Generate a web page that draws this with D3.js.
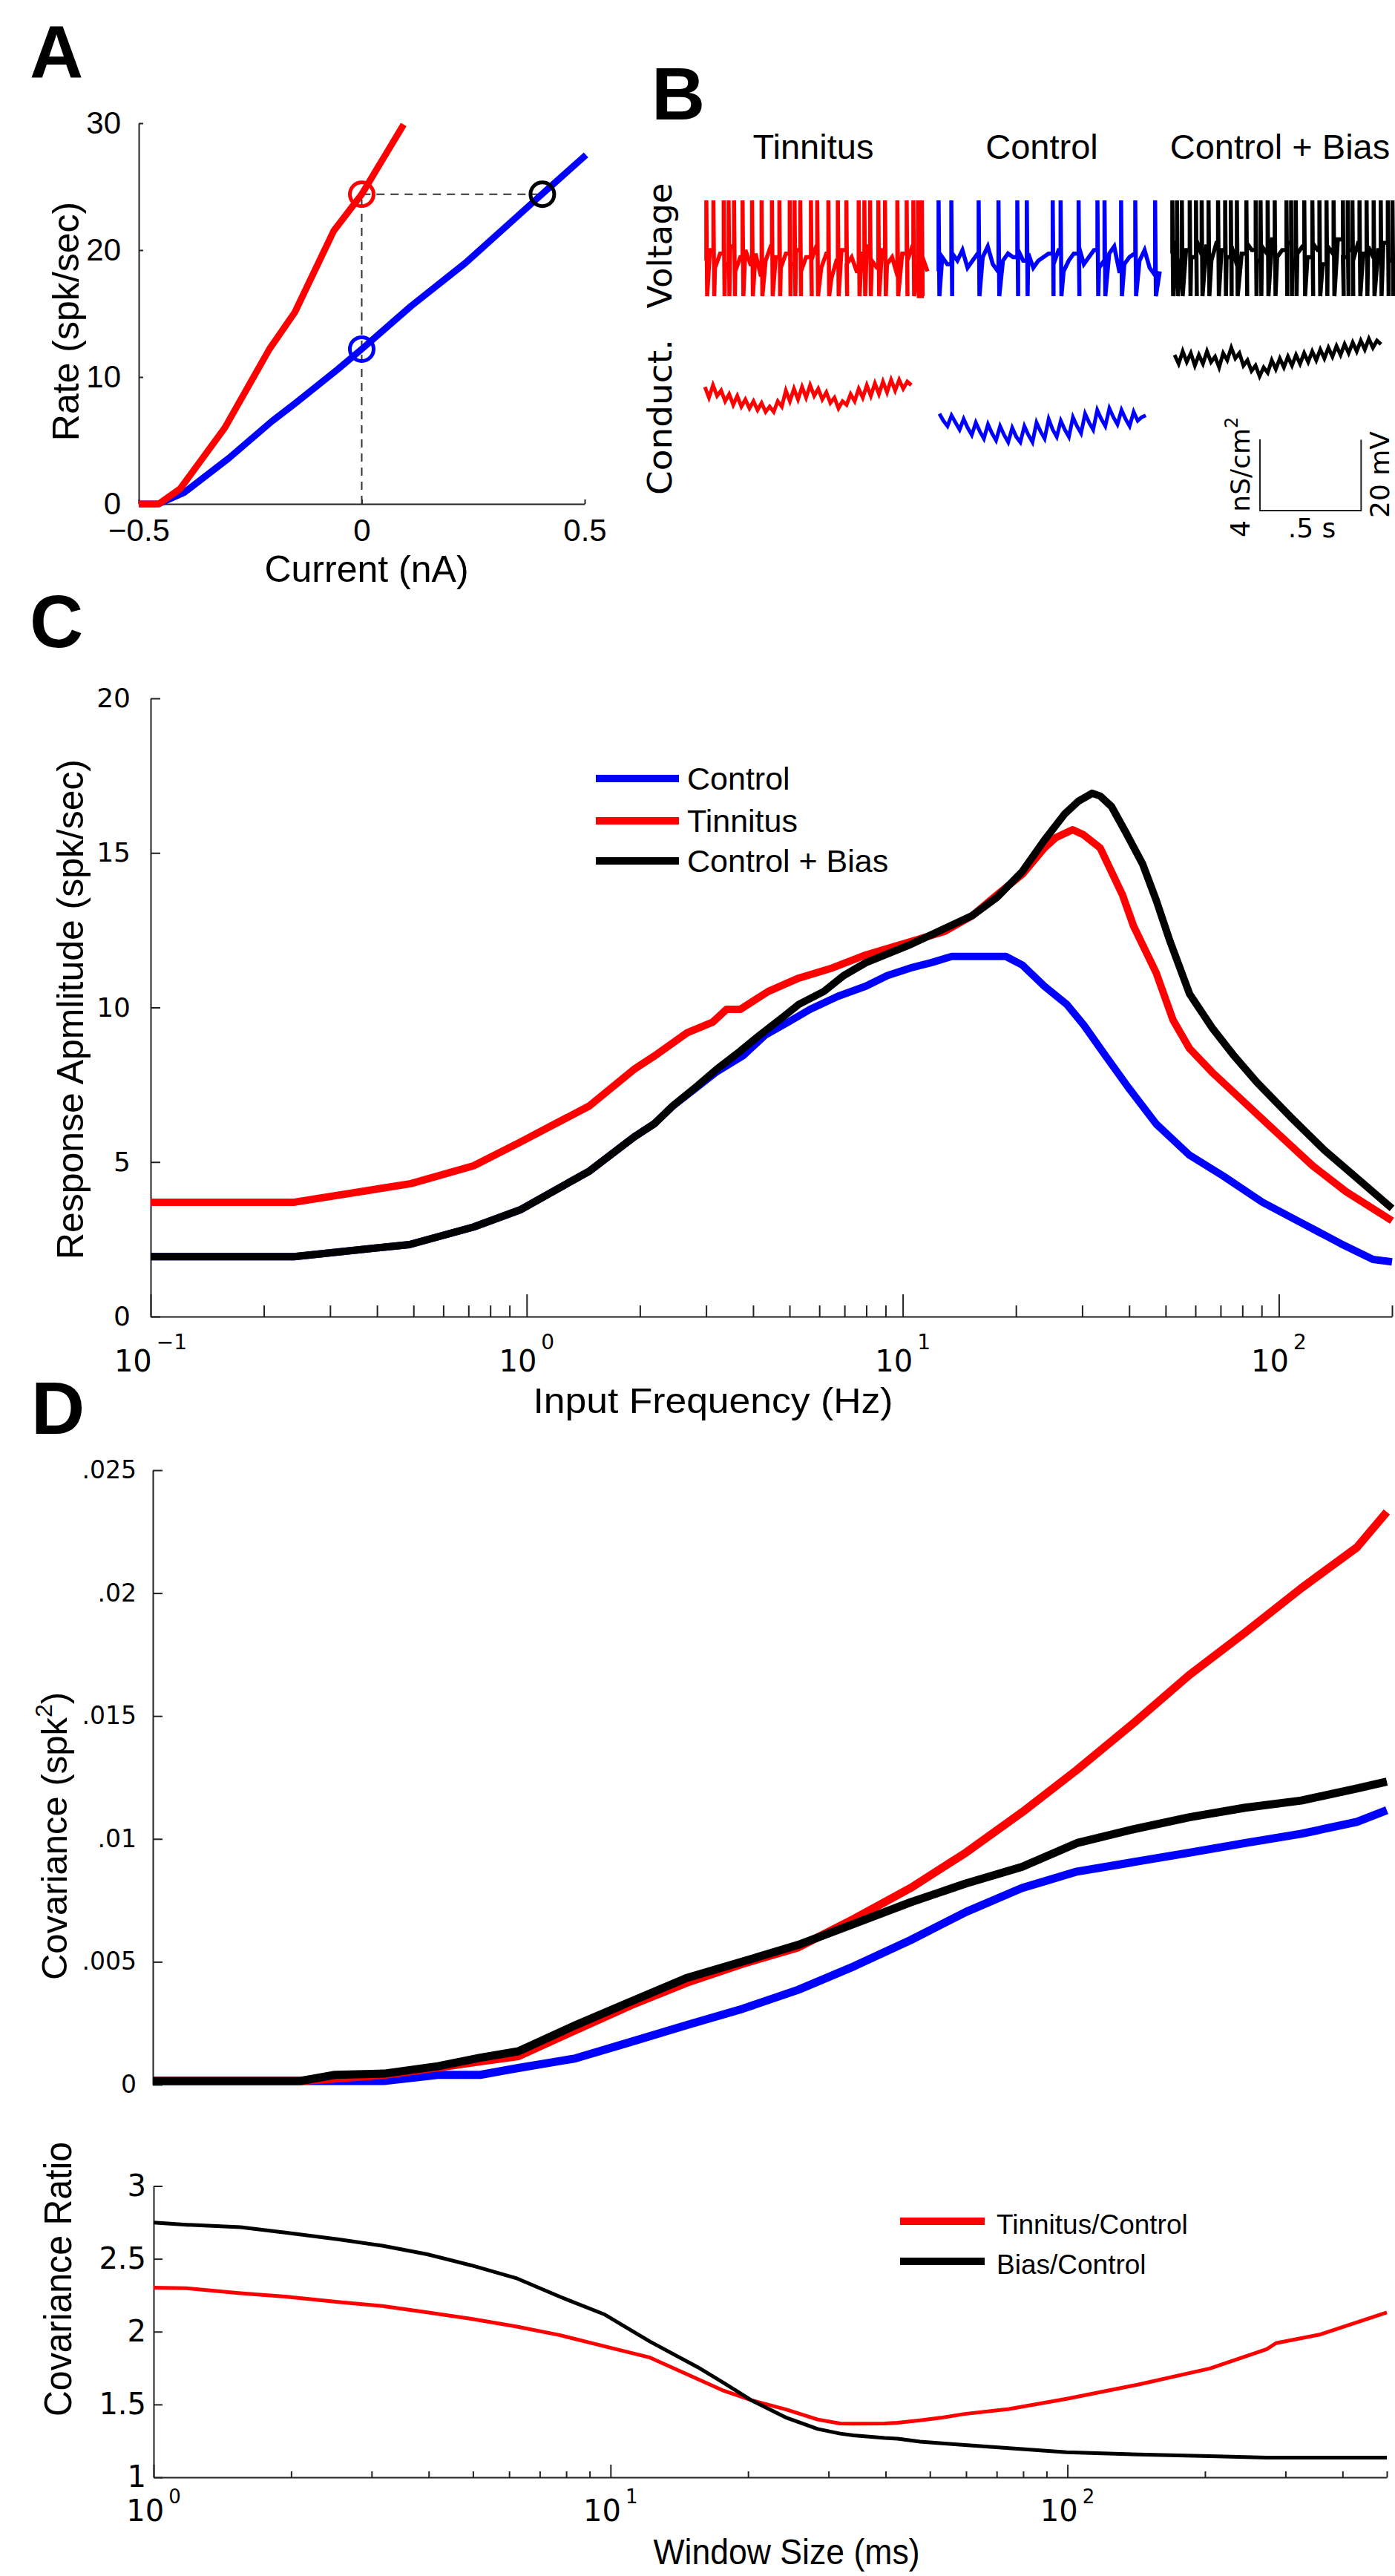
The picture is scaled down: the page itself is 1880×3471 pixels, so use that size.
<!DOCTYPE html>
<html>
<head>
<meta charset="utf-8">
<script src="https://cdn.jsdelivr.net/npm/d3@7"></script>
<style>
  html, body { margin: 0; padding: 0; background: #fff; }
  svg { display: block; }
</style>
</head>
<body>
<div id="container"></div>
<script>
// ---------- Panel A : rate vs injected current ----------
const fiTinnCurrent = [-0.5, -0.455, -0.407, -0.307, -0.207, -0.15, -0.063, 0, 0.094];
const fiTinnRate    = [0, 0, 1.2, 6.0, 12.2, 15.1, 21.5, 24.4, 29.9];
const fiCtrlCurrent = [-0.5, -0.455, -0.398, -0.298, -0.202, -0.15, -0.054, 0, 0.111, 0.233, 0.404, 0.503];
const fiCtrlRate    = [0, 0, 0.9, 3.6, 6.5, 7.9, 10.6, 12.2, 15.6, 19.0, 24.4, 27.5];
const markerCurrent = [0, 0, 0.405];          // tinnitus, control, control + bias
const markerRate    = [24.4, 12.2, 24.4];
const currentTicks  = [-0.5, 0, 0.5];
const rateTicks     = [0, 10, 20, 30];

// ---------- Panel B : example traces ----------
const traceNames = ["Tinnitus", "Control", "Control + Bias"];
const vDt = 0.025;          // s between subthreshold samples
const gDt = 0.02;           // s between conductance samples
const vPeak = -40, vTrough = -67;   // mV
const tinnSpikes = [0.007, 0.042, 0.093, 0.117, 0.144, 0.186, 0.233, 0.28, 0.331, 0.368, 0.419, 0.443, 0.471, 0.524, 0.555, 0.61, 0.657, 0.699, 0.76, 0.788, 0.816, 0.857, 0.89, 0.951, 0.997, 1.03, 1.053, 1.072];
const ctrlSpikes = [0.007, 0.07, 0.205, 0.303, 0.396, 0.443, 0.571, 0.61, 0.699, 0.792, 0.827, 0.909, 0.979, 1.077];
const biasSpikes = [0.007, 0.03, 0.054, 0.093, 0.124, 0.152, 0.186, 0.233, 0.268, 0.296, 0.326, 0.373, 0.419, 0.443, 0.478, 0.513, 0.571, 0.594, 0.617, 0.659, 0.699, 0.734, 0.769, 0.804, 0.85, 0.874, 0.897, 0.932, 0.967, 1.002, 1.037, 1.072, 1.095];
const tinnVsub = [-57,-54,-59,-55,-58,-53,-60,-56,-54,-58,-55,-61,-57,-53,-56,-59,-55,-58,-54,-60,-56,-57,-53,-59,-55,-62,-57,-54,-58,-56,-60,-55,-53,-57,-59,-54,-58,-56,-61,-55,-57,-53,-59,-56,-60];
const ctrlVsub = [-60,-56,-58,-55,-57,-54,-59,-57,-55,-56,-53,-58,-60,-57,-55,-56,-54,-57,-55,-59,-57,-56,-55,-58,-54,-60,-57,-55,-53,-58,-56,-54,-59,-57,-55,-53,-60,-58,-56,-55,-57,-54,-59,-61,-60];
const biasVsub = [-55,-52,-57,-54,-56,-51,-55,-53,-57,-52,-54,-56,-53,-58,-55,-52,-54,-57,-53,-55,-51,-56,-54,-52,-57,-55,-53,-56,-52,-54,-58,-53,-55,-51,-56,-54,-57,-52,-55,-53,-56,-54,-52,-57,-55];
const tinnCond = [5.4,4.8,5.5,4.9,5.2,4.6,5.0,4.4,4.9,4.3,4.7,4.2,4.6,4.1,4.5,4.0,4.3,4.0,4.6,4.3,5.2,4.6,5.3,4.7,5.4,4.8,5.5,4.9,5.3,4.7,5.1,4.5,4.8,4.2,4.6,4.4,5.0,4.6,5.3,4.8,5.5,4.9,5.6,5.0,5.7,5.1,5.8,5.2,5.8,5.3,5.7,5.5];
const ctrlCond = [3.9,3.5,3.2,3.8,3.4,3.0,3.6,3.1,2.7,3.4,2.9,2.5,3.3,2.8,2.4,3.2,2.7,2.3,3.1,2.6,2.3,3.2,2.7,2.3,3.4,2.9,2.5,3.6,3.0,2.6,3.5,3.0,2.6,3.7,3.2,2.8,3.9,3.4,3.0,4.1,3.6,3.2,4.2,3.7,3.3,4.1,3.6,3.2,4.0,3.5,3.7,3.8];
const biasCond = [7.2,6.7,7.4,6.8,7.3,6.6,7.2,6.7,7.4,6.8,7.1,6.5,7.3,6.9,7.6,7.0,7.3,6.6,6.9,6.3,6.6,6.0,6.5,6.2,6.9,6.4,7.0,6.5,7.1,6.6,7.2,6.7,7.3,6.8,7.4,6.9,7.5,7.0,7.6,7.1,7.7,7.2,7.8,7.3,7.9,7.4,8.0,7.5,8.1,7.6,8.0,7.8];
const scaleBarTime = 0.5, scaleBarCond = 4, scaleBarVolt = 20;

// ---------- Panel C : response amplitude vs input frequency ----------
const cCtrlHz  = [0.1, 0.241, 0.488, 0.723, 0.96, 1.47, 1.93, 2.18, 2.45, 2.77, 3.20, 3.76, 4.30, 4.95, 5.67, 6.72, 7.98, 9.10, 10.5, 11.9, 13.5, 18.8, 20.8, 23.8, 27.3, 30.3, 34.7, 39.8, 47.2, 57.9, 71.1, 90.4, 115, 146, 178, 200];
const cCtrlAmp = [1.94, 1.94, 2.33, 2.90, 3.45, 4.71, 5.81, 6.23, 6.82, 7.32, 7.92, 8.44, 9.10, 9.52, 9.94, 10.36, 10.69, 11.03, 11.28, 11.45, 11.65, 11.65, 11.37, 10.69, 10.10, 9.43, 8.42, 7.41, 6.23, 5.22, 4.55, 3.70, 3.03, 2.36, 1.85, 1.77];
const cTinnHz  = [0.1, 0.241, 0.492, 0.723, 0.96, 1.47, 1.93, 2.18, 2.67, 3.12, 3.40, 3.70, 4.39, 5.29, 6.50, 7.98, 10.5, 12.9, 15.3, 17.8, 20.8, 23.8, 25.5, 28.3, 30.3, 33.5, 38.4, 41.1, 47.2, 52.3, 57.9, 66.4, 81.5, 100, 123, 151, 200];
const cTinnAmp = [3.70, 3.70, 4.30, 4.88, 5.64, 6.82, 8.00, 8.42, 9.18, 9.52, 9.94, 9.94, 10.52, 10.95, 11.28, 11.70, 12.13, 12.46, 12.97, 13.64, 14.31, 15.16, 15.49, 15.75, 15.58, 15.16, 13.64, 12.63, 11.12, 9.60, 8.67, 7.91, 6.90, 5.89, 4.88, 4.04, 3.10];
const cBiasHz  = [0.1, 0.241, 0.488, 0.723, 0.96, 1.47, 1.93, 2.18, 2.45, 2.86, 3.20, 3.70, 4.15, 4.79, 5.29, 6.17, 6.96, 7.98, 10.5, 12.9, 15.3, 17.8, 20.8, 23.8, 26.9, 29.3, 31.9, 33.5, 35.9, 39.2, 43.4, 47.2, 51.4, 57.9, 66.4, 76.2, 87.4, 107, 132, 162, 200];
const cBiasAmp = [1.94, 1.94, 2.33, 2.90, 3.45, 4.71, 5.81, 6.23, 6.82, 7.49, 8.00, 8.59, 9.09, 9.68, 10.10, 10.52, 11.03, 11.45, 12.04, 12.55, 12.97, 13.56, 14.40, 15.41, 16.25, 16.67, 16.93, 16.84, 16.50, 15.66, 14.65, 13.47, 12.13, 10.44, 9.35, 8.42, 7.58, 6.48, 5.39, 4.46, 3.50];
const cLegend = ["Control", "Tinnitus", "Control + Bias"];
const ampTicks = [0, 5, 10, 15, 20];
const freqDecades = [0.1, 1, 10, 100];

// ---------- Panel D : covariance vs window size ----------
const covWindow = [1, 2.1, 2.5, 3.2, 4.2, 5.2, 6.3, 8.4, 11.1, 14.7, 19.5, 25.8, 34.2, 45.4, 60.1, 79.6, 105, 140, 185, 245, 325, 430, 500];
const covCtrl = [.00015, .00015, .00015, .00015, .0004, .0004, .00068, .00107, .00174, .00242, .00309, .00386, .00482, .00588, .00703, .0080, .00867, .00906, .00944, .00983, .01021, .01069, .01117];
const covTinn = [.00015, .00015, .00025, .0004, .0007, .00095, .00116, .00222, .00323, .00415, .00492, .00559, .00675, .0080, .00945, .01108, .01281, .01473, .01667, .0184, .0202, .02186, .0233];
const covBias = [.00015, .00015, .0004, .00045, .00075, .0011, .00136, .00242, .00338, .00434, .00501, .00569, .00655, .00742, .00819, .00886, .00983, .0104, .01088, .01127, .01156, .01205, .01233];
const covTicks = [0, .005, .01, .015, .02, .025];

const ratioWindow = [1, 1.18, 1.55, 1.94, 2.53, 3.17, 3.97, 4.96, 6.21, 7.77, 9.72, 12.2, 15.5, 17.7, 20.3, 24.3, 28.4, 31.8, 34.0, 39.8, 42.5, 47.6, 53.2, 59.6, 74.5, 99.6, 143, 205, 273, 286, 358, 500];
const ratioTinn = [2.302, 2.298, 2.264, 2.241, 2.204, 2.176, 2.132, 2.088, 2.036, 1.975, 1.899, 1.822, 1.675, 1.594, 1.53, 1.464, 1.397, 1.369, 1.368, 1.369, 1.375, 1.391, 1.41, 1.435, 1.469, 1.539, 1.637, 1.747, 1.88, 1.921, 1.981, 2.132];
const ratioBias = [2.749, 2.734, 2.717, 2.68, 2.634, 2.59, 2.531, 2.455, 2.368, 2.238, 2.117, 1.932, 1.757, 1.648, 1.53, 1.408, 1.332, 1.30, 1.288, 1.27, 1.265, 1.245, 1.233, 1.222, 1.20, 1.172, 1.157, 1.145, 1.135, 1.135, 1.135, 1.135];
const ratioLegend = ["Tinnitus/Control", "Bias/Control"];
const ratioTicks = [1, 1.5, 2, 2.5, 3];
const windowDecades = [1, 10, 100];

// ---------------------------------------------------------------------------
const RED = "#ff0000", BLUE = "#0000ff", BLACK = "#000000";
const SANS = "Liberation Sans, Arial, sans-serif";
const WIDE = "DejaVu Sans, Verdana, sans-serif";

const svg = d3.select("#container").append("svg")
    .attr("width", 1880)
    .attr("height", 3471)
    .attr("font-family", SANS);

function styleAxis(g, size, family) {
  g.attr("font-size", size).attr("font-family", family);
  g.select(".domain").attr("stroke", "#222").attr("stroke-width", 2);
  g.selectAll(".tick line").attr("stroke", "#222").attr("stroke-width", 2);
  g.selectAll(".tick text").attr("fill", "#000");
}

function letter(txt, x, y) {
  svg.append("text").attr("x", x).attr("y", y)
    .attr("font-size", 100).attr("font-weight", "bold").text(txt);
}

function rotLabel(g, txt, x, y, size, family, len) {
  const t = g.append("text")
    .attr("transform", `translate(${x},${y}) rotate(-90)`)
    .attr("text-anchor", "middle")
    .attr("font-size", size)
    .attr("font-family", family)
    .text(txt);
  if (len) t.attr("textLength", len).attr("lengthAdjust", "spacingAndGlyphs");
  return t;
}

function series(g, xs, ys, xScale, yScale, color, width) {
  g.append("path")
    .datum(d3.zip(xs, ys))
    .attr("fill", "none")
    .attr("stroke", color)
    .attr("stroke-width", width)
    .attr("stroke-linejoin", "round")
    .attr("d", d3.line().x(d => xScale(d[0])).y(d => yScale(d[1])));
}

// log axis labels of the form 10^k
function decadeLabels(g, scale, vals, y, size, supSize, rise) {
  vals.forEach(v => {
    const e = Math.round(Math.log10(v));
    const t = g.append("text")
      .attr("x", scale(v)).attr("y", y)
      .attr("text-anchor", "middle")
      .attr("font-family", WIDE)
      .attr("font-size", size);
    t.append("tspan").text("10");
    t.append("tspan").attr("dx", 6).attr("dy", -rise).attr("font-size", supSize)
      .text(e < 0 ? "\u2212" + (-e) : e);
  });
}

function minorTicks(decades, max) {
  const out = [];
  decades.forEach(d => { for (let k = 2; k <= 9; k++) if (d * k <= max) out.push(d * k); });
  return out;
}

// ================= Panel A =================
letter("A", 40, 105);
const aX = d3.scaleLinear().domain([-0.5, 0.5]).range([187, 788]);
const aY = d3.scaleLinear().domain([0, 30]).range([679, 166]);
const gA = svg.append("g");

gA.append("g").attr("transform", `translate(0,${aY(0)})`)
  .call(d3.axisBottom(aX).tickValues(currentTicks).tickSize(-6).tickSizeOuter(0).tickPadding(20)
    .tickFormat(d => d === 0 ? "0" : d3.format(".1f")(d)))
  .call(g => styleAxis(g, 42, SANS));
gA.append("g").attr("transform", `translate(${aX(-0.5)},0)`)
  .call(d3.axisLeft(aY).tickValues(rateTicks).tickSize(-6).tickSizeOuter(0).tickPadding(24))
  .call(g => styleAxis(g, 42, SANS));

gA.append("path")
  .attr("d", d3.line()([
    [aX(markerCurrent[0]), aY(0)],
    [aX(markerCurrent[0]), aY(markerRate[0])],
    [aX(markerCurrent[2]), aY(markerRate[2])]]))
  .attr("fill", "none").attr("stroke", "#333").attr("stroke-width", 2)
  .attr("stroke-dasharray", "11,8");

series(gA, fiCtrlCurrent, fiCtrlRate, aX, aY, BLUE, 9);
series(gA, fiTinnCurrent, fiTinnRate, aX, aY, RED, 9);

gA.selectAll("circle.mk")
  .data(d3.zip(markerCurrent, markerRate, [RED, BLUE, BLACK]))
  .join("circle")
  .attr("cx", d => aX(d[0])).attr("cy", d => aY(d[1])).attr("r", 16)
  .attr("fill", "none").attr("stroke", d => d[2]).attr("stroke-width", 5);

gA.append("text").attr("x", 494).attr("y", 784).attr("text-anchor", "middle")
  .attr("font-size", 50).text("Current (nA)");
rotLabel(gA, "Rate (spk/sec)", 106, 433, 50, SANS);

// ================= Panel B =================
letter("B", 878, 161);
const gB = svg.append("g");
const titleX = [1096, 1404, 1725];
traceNames.forEach((n, i) => {
  gB.append("text").attr("x", titleX[i]).attr("y", 214).attr("text-anchor", "middle")
    .attr("font-size", 47).text(n);
});
rotLabel(gB, "Voltage", 905, 331, 45, WIDE);
rotLabel(gB, "Conduct.", 905, 562, 45, WIDE, 210);

const vY = d3.scaleLinear().domain([vTrough, vPeak]).range([399, 270]);
const gY = d3.scaleLinear().domain([0, 10]).range([651, 411]);
const pxPerSec = 272.7;

function voltagePoints(sub, spikes) {
  const pts = [];
  let si = 0;
  sub.forEach((v, i) => {
    const t = i * vDt;
    while (si < spikes.length && spikes[si] < t) {
      const prev = pts.length ? pts[pts.length - 1][1] : v;
      pts.push([spikes[si], prev], [spikes[si], vPeak], [spikes[si] + 0.004, vTrough]);
      si++;
    }
    pts.push([t, v]);
  });
  return pts;
}

const vTraces = [
  { sub: tinnVsub, spikes: tinnSpikes, cond: tinnCond, color: RED,   vx0: 950,  gx0: 950 },
  { sub: ctrlVsub, spikes: ctrlSpikes, cond: ctrlCond, color: BLUE,  vx0: 1263, gx0: 1266 },
  { sub: biasVsub, spikes: biasSpikes, cond: biasCond, color: BLACK, vx0: 1578, gx0: 1583 }
];
vTraces.forEach(tr => {
  const tx = d3.scaleLinear().domain([0, 1]).range([tr.vx0, tr.vx0 + pxPerSec]);
  gB.append("path")
    .datum(voltagePoints(tr.sub, tr.spikes))
    .attr("fill", "none").attr("stroke", tr.color).attr("stroke-width", 5.5)
    .attr("stroke-linejoin", "miter")
    .attr("d", d3.line().x(d => tx(d[0])).y(d => vY(d[1])));
  const gx = d3.scaleLinear().domain([0, 1]).range([tr.gx0, tr.gx0 + pxPerSec]);
  gB.append("path")
    .datum(tr.cond.map((g, i) => [i * gDt, g]))
    .attr("fill", "none").attr("stroke", tr.color).attr("stroke-width", 5)
    .attr("d", d3.line().x(d => gx(d[0])).y(d => gY(d[1])));
});

// scale bar
const sbX0 = 1698, sbY0 = 688;
const sbX1 = sbX0 + scaleBarTime * pxPerSec;
const sbCondTop = sbY0 - (gY(0) - gY(scaleBarCond));
const sbVoltTop = sbY0 - (vY(vTrough) - vY(vTrough + scaleBarVolt));
gB.append("path")
  .attr("d", d3.line()([[sbX0, sbCondTop], [sbX0, sbY0], [sbX1, sbY0], [sbX1, sbVoltTop]]))
  .attr("fill", "none").attr("stroke", "#222").attr("stroke-width", 2);
const cl = gB.append("text")
  .attr("transform", `translate(1684,724) rotate(-90)`)
  .attr("font-family", WIDE).attr("font-size", 36);
cl.append("tspan").text(scaleBarCond + " nS/cm");
cl.append("tspan").attr("dy", -16).attr("font-size", 24).text("2");
gB.append("text")
  .attr("transform", `translate(1872,698) rotate(-90)`)
  .attr("font-family", WIDE).attr("font-size", 36).text(scaleBarVolt + " mV");
gB.append("text").attr("x", 1768).attr("y", 724).attr("text-anchor", "middle")
  .attr("font-family", WIDE).attr("font-size", 36).text(".5 s");

// ================= Panel C =================
letter("C", 40, 872);
const cX = d3.scaleLog().domain([0.1, 200]).range([203, 1876]);
const cY = d3.scaleLinear().domain([0, 20]).range([1774, 941]);
const gC = svg.append("g");

gC.append("g").attr("transform", `translate(0,${cY(0)})`)
  .call(d3.axisBottom(cX).tickValues(minorTicks(freqDecades, 200)).tickSize(-15).tickSizeOuter(0).tickFormat(""))
  .call(g => styleAxis(g, 10, WIDE));
gC.append("g").attr("transform", `translate(0,${cY(0)})`)
  .call(d3.axisBottom(cX).tickValues(freqDecades).tickSize(-30).tickSizeOuter(0).tickFormat(""))
  .call(g => { styleAxis(g, 10, WIDE); g.select(".domain").remove(); });
gC.append("g").attr("transform", `translate(${cX(0.1)},0)`)
  .call(d3.axisLeft(cY).tickValues(ampTicks).tickSize(-13).tickSizeOuter(0).tickPadding(27))
  .call(g => styleAxis(g, 36, WIDE));
decadeLabels(gC, cX, freqDecades, 1848, 40, 28, 30);

series(gC, cCtrlHz, cCtrlAmp, cX, cY, BLUE, 10);
series(gC, cTinnHz, cTinnAmp, cX, cY, RED, 10);
series(gC, cBiasHz, cBiasAmp, cX, cY, BLACK, 10);

const cLegColor = [BLUE, RED, BLACK];
const cLegY = [1049, 1106, 1160];
cLegend.forEach((n, i) => {
  gC.append("line").attr("x1", 803).attr("x2", 915).attr("y1", cLegY[i]).attr("y2", cLegY[i])
    .attr("stroke", cLegColor[i]).attr("stroke-width", 10);
  gC.append("text").attr("x", 926).attr("y", cLegY[i] + 15).attr("font-size", 43).text(n);
});

gC.append("text").attr("x", 961).attr("y", 1904).attr("text-anchor", "middle")
  .attr("font-size", 48).attr("textLength", 485).attr("lengthAdjust", "spacingAndGlyphs")
  .text("Input Frequency (Hz)");
rotLabel(gC, "Response Apmlitude (spk/sec)", 112, 1360, 50, SANS, 674);

// ================= Panel D (top) =================
letter("D", 42, 1932);
const dX = d3.scaleLog().domain([1, 500]).range([206, 1869]);
const dYc = d3.scaleLinear().domain([0, 0.025]).range([2809, 1981]);
const gD = svg.append("g");

gD.append("g").attr("transform", `translate(${dX(1)},0)`)
  .call(d3.axisLeft(dYc).tickValues(covTicks).tickSize(-13).tickSizeOuter(0).tickPadding(22)
    .tickFormat(d => d === 0 ? "0" : d3.format(".3~f")(d).replace(/^0/, "")))
  .call(g => styleAxis(g, 33, WIDE));

series(gD, covWindow, covCtrl, dX, dYc, BLUE, 11);
series(gD, covWindow, covTinn, dX, dYc, RED, 11);
series(gD, covWindow, covBias, dX, dYc, BLACK, 11);

const cvl = gD.append("text")
  .attr("transform", "translate(90,2474) rotate(-90)")
  .attr("text-anchor", "middle").attr("font-size", 49);
cvl.append("tspan").text("Covariance (spk");
cvl.append("tspan").attr("dy", -20).attr("font-size", 32).text("2");
cvl.append("tspan").attr("dy", 20).text(")");

// ================= Panel D (bottom) =================
const dYr = d3.scaleLinear().domain([1, 3]).range([3338, 2945.5]);
const dXr = d3.scaleLog().domain([1, 500]).range([207, 1869]);

gD.append("g").attr("transform", `translate(0,${dYr(1)})`)
  .call(d3.axisBottom(dXr).tickValues(minorTicks(windowDecades, 500)).tickSize(-8).tickSizeOuter(0).tickFormat(""))
  .call(g => styleAxis(g, 10, WIDE));
gD.append("g").attr("transform", `translate(0,${dYr(1)})`)
  .call(d3.axisBottom(dXr).tickValues(windowDecades).tickSize(-17).tickSizeOuter(0).tickFormat(""))
  .call(g => { styleAxis(g, 10, WIDE); g.select(".domain").remove(); });
gD.append("g").attr("transform", `translate(${dXr(1)},0)`)
  .call(d3.axisLeft(dYr).tickValues(ratioTicks).tickSize(-12).tickSizeOuter(0).tickPadding(10)
    .tickFormat(d => String(d)))
  .call(g => styleAxis(g, 40, WIDE));
decadeLabels(gD, dXr, windowDecades, 3397, 40, 26, 24);

series(gD, ratioWindow, ratioTinn, dXr, dYr, RED, 5);
series(gD, ratioWindow, ratioBias, dXr, dYr, BLACK, 5);

const rLegColor = [RED, BLACK];
const rLegY = [2993, 3047];
ratioLegend.forEach((n, i) => {
  gD.append("line").attr("x1", 1213).attr("x2", 1327).attr("y1", rLegY[i]).attr("y2", rLegY[i])
    .attr("stroke", rLegColor[i]).attr("stroke-width", 10);
  gD.append("text").attr("x", 1343).attr("y", rLegY[i] + 17).attr("font-size", 37).text(n);
});

gD.append("text").attr("x", 1060).attr("y", 3455).attr("text-anchor", "middle")
  .attr("font-size", 48).attr("textLength", 359).attr("lengthAdjust", "spacingAndGlyphs")
  .text("Window Size (ms)");
rotLabel(gD, "Covariance Ratio", 96, 3071, 52, SANS, 370);
</script>
</body>
</html>
